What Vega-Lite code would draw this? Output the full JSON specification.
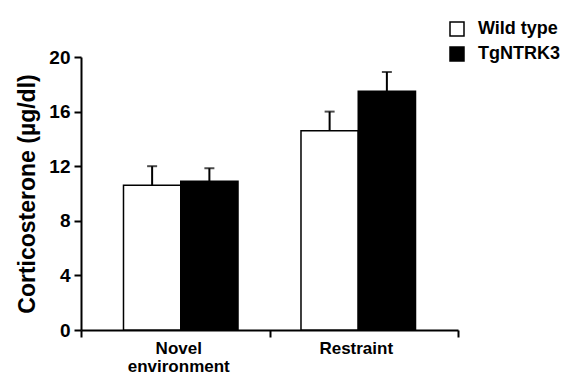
{
  "$schema": "https://vega.github.io/schema/vega-lite/v6.json",
  "width": 377,
  "height": 273,
  "autosize": {"type": "none"},
  "padding": {"left": 81, "top": 57, "right": 103, "bottom": 44},
  "background": "white",
  "config": {
    "view": {"stroke": null},
    "font": "Liberation Sans",
    "axis": {"grid": false, "domainColor": "black", "tickColor": "black", "labelColor": "black", "titleColor": "black", "labelFontWeight": "bold", "titleFontWeight": "bold"}
  },
  "data": {
    "values": [
      {"cond": "Novel environment", "geno": "Wild type", "value": 10.6, "upper": 12.0},
      {"cond": "Novel environment", "geno": "TgNTRK3", "value": 10.9, "upper": 11.85},
      {"cond": "Restraint", "geno": "Wild type", "value": 14.6, "upper": 16.0},
      {"cond": "Restraint", "geno": "TgNTRK3", "value": 17.5, "upper": 18.9}
    ]
  },
  "resolve": {"scale": {"x": "independent"}, "axis": {"x": "independent"}},
  "layer": [
    {
      "mark": {"type": "bar", "opacity": 0},
      "encoding": {
        "x": {
          "field": "cond", "type": "nominal", "sort": null,
          "scale": {"paddingInner": 0, "paddingOuter": 0},
          "axis": {
            "title": null, "labels": false, "orient": "bottom",
            "tickBand": "extent", "tickSize": 7, "tickWidth": 2, "domainWidth": 2
          }
        },
        "y": {"field": "value", "type": "quantitative"}
      }
    },
    {
      "encoding": {
        "x": {
          "field": "cond", "type": "nominal", "sort": null,
          "scale": {"paddingInner": 0, "paddingOuter": 0.062},
          "axis": {
            "title": null, "orient": "bottom", "labelAngle": 0, "labelFontSize": 17, "labelPadding": 10,
            "labelLineHeight": 18, "labelOffset": -2, "ticks": false, "domain": false,
            "labelExpr": "datum.label == 'Novel environment' ? ['Novel','environment'] : datum.label"
          }
        },
        "xOffset": {
          "field": "geno", "type": "nominal",
          "sort": ["Wild type", "TgNTRK3"],
          "scale": {"paddingInner": 0, "paddingOuter": 0.55}
        }
      },
      "layer": [
        {
          "mark": {"type": "bar", "stroke": "black", "strokeWidth": 1.5},
          "encoding": {
            "y": {
              "field": "value", "type": "quantitative",
              "scale": {"domain": [0, 20], "nice": false},
              "axis": {
                "title": "Corticosterone (µg/dl)", "titleFontSize": 23, "titlePadding": 9,
                "values": [0, 4, 8, 12, 16, 20], "labelFontSize": 19, "labelPadding": 4,
                "tickSize": 7, "tickWidth": 2, "domainWidth": 2
              }
            },
            "fill": {
              "field": "geno", "type": "nominal",
              "scale": {"domain": ["Wild type", "TgNTRK3"], "range": ["white", "black"]},
              "legend": {
                "title": null, "orient": "none", "legendX": 367, "legendY": -37,
                "symbolType": "square", "symbolSize": 196, "symbolStrokeColor": "black",
                "symbolStrokeWidth": 1.5, "labelFontSize": 18, "labelFontWeight": "bold",
                "labelColor": "black", "rowPadding": 5, "labelOffset": 12
              }
            }
          }
        },
        {
          "mark": {"type": "rule", "color": "black", "strokeWidth": 2},
          "encoding": {
            "y": {"field": "value", "type": "quantitative"},
            "y2": {"field": "upper"}
          }
        },
        {
          "mark": {"type": "tick", "color": "black", "size": 10, "thickness": 2},
          "encoding": {
            "y": {"field": "upper", "type": "quantitative"}
          }
        }
      ]
    }
  ]
}
